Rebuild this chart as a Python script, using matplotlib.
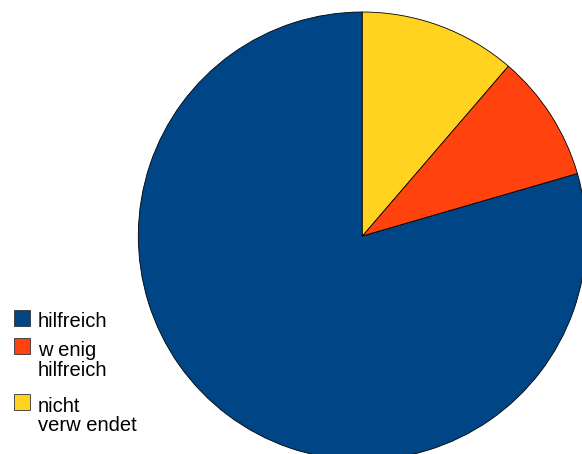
import matplotlib
matplotlib.use("Agg")
import matplotlib.pyplot as plt
from matplotlib.patches import Rectangle

labels = ["hilfreich", "w enig\nhilfreich", "nicht\nverw endet"]
values = [79.5, 9.2, 11.3]
colors = ["#004586", "#ff420e", "#ffd320"]

W, H = 582, 454
fig = plt.figure(figsize=(W / 100, H / 100), dpi=100)
fig.patch.set_facecolor("white")

cx, cy, r = 362.3, 236.0, 224.0
ax = fig.add_axes([(cx - r) / W, (H - cy - r) / H, 2 * r / W, 2 * r / H])
ax.pie(values, colors=colors, startangle=90, counterclock=True,
       wedgeprops=dict(edgecolor="black", linewidth=0.6))
ax.set_xlim(-1, 1)
ax.set_ylim(-1, 1)
ax.set_aspect("equal")
ax.axis("off")

# legend drawn manually (pixel positions measured from top)
sq_tops = [309.5, 338.3, 394.0]
sq = 16
for lab, col, top in zip(labels, colors, sq_tops):
    rect = Rectangle((14 / W, (H - top - sq) / H), sq / W, sq / H,
                     transform=fig.transFigure, facecolor=col,
                     edgecolor="#333333", linewidth=0.6)
    fig.add_artist(rect)
    fig.text(38 / W, (H - top - 2.5) / H, lab, ha="left", va="top",
             fontsize=14.5, family="Liberation Sans", color="black",
             linespacing=1.05)

fig.savefig("out.png", dpi=100)
